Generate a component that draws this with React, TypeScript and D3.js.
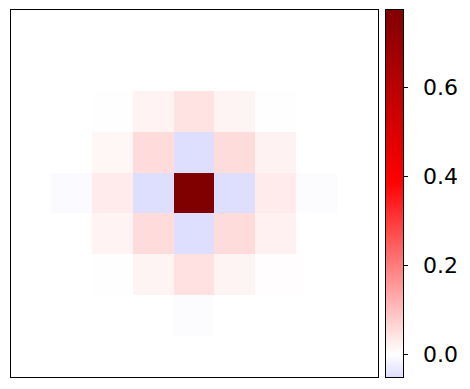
import React from "react";
import * as d3 from "d3";

const rowsIdx = d3.range(9);
const colsIdx = d3.range(9);

const row0 = [0, 0, 0, 0, 0, 0, 0, 0, 0];
const row1 = [0, 0, 0, 0, 0, 0, 0, 0, 0];
const row2 = [0, 0, 0.002, 0.018, 0.042, 0.016, 0.002, 0, 0];
const row3 = [0, 0, 0.014, 0.053, -0.05, 0.053, 0.02, 0, 0];
const row4 = [0, -0.007, 0.03, -0.05, 0.776, -0.05, 0.03, -0.004, 0];
const row5 = [0, 0, 0.018, 0.053, -0.05, 0.053, 0.022, 0, 0];
const row6 = [0, 0, 0.002, 0.016, 0.045, 0.016, 0.003, 0, 0];
const row7 = [0, 0, 0, 0, -0.004, 0, 0, 0, 0];
const row8 = [0, 0, 0, 0, 0, 0, 0, 0, 0];
const grid = [row0, row1, row2, row3, row4, row5, row6, row7, row8];

const vMin = -0.0516;
const vMax = 0.776;
const cbTicks = [0.0, 0.2, 0.4, 0.6];

// matplotlib "seismic" colormap
function seismic(t: number): string {
  const c = Math.max(0, Math.min(1, t));
  const stops: [number, number, number, number][] = [
    [0, 0, 0, 0.3],
    [0.25, 0, 0, 1],
    [0.5, 1, 1, 1],
    [0.75, 1, 0, 0],
    [1, 0.5, 0, 0],
  ];
  for (let i = 0; i < stops.length - 1; i++) {
    const a = stops[i], b = stops[i + 1];
    if (c >= a[0] && c <= b[0]) {
      const f = (c - a[0]) / (b[0] - a[0]);
      const r = a[1] + (b[1] - a[1]) * f;
      const g = a[2] + (b[2] - a[2]) * f;
      const bl = a[3] + (b[3] - a[3]) * f;
      return d3.rgb(r * 255, g * 255, bl * 255).formatHex();
    }
  }
  return "#800000";
}

const colorOf = (v: number) => seismic(0.5 + v / (2 * vMax));

export default function App() {
  const W = 470, H = 389;
  const plot = { x0: 10, y0: 9, x1: 378, y1: 377 };
  const x = d3.scaleBand<number>().domain(colsIdx).range([plot.x0, plot.x1]).padding(0);
  const y = d3.scaleBand<number>().domain(rowsIdx).range([plot.y0, plot.y1]).padding(0);
  const cb = { x0: 385, x1: 403, y0: 9, y1: 377 };
  const cy = d3.scaleLinear().domain([vMin, vMax]).range([cb.y1, cb.y0]);
  const gradStops = d3.range(0, 101).map((i) => {
    const v = vMin + ((vMax - vMin) * i) / 100;
    return { off: i, color: colorOf(v) };
  });

  return (
    <svg width={W} height={H} style={{ position: "absolute", left: 0, top: 0, background: "#fff" }}
      fontFamily="DejaVu Sans, sans-serif">
      <defs>
        <linearGradient id="cbg" x1="0" y1="1" x2="0" y2="0">
          {gradStops.map((s) => (
            <stop key={s.off} offset={`${s.off}%`} stopColor={s.color} />
          ))}
        </linearGradient>
      </defs>
      <rect x={0} y={0} width={W} height={H} fill="#fff" />
      {grid.map((row, ri) =>
        row.map((v, ci) => (
          <rect key={`${ri}-${ci}`} x={x(ci)} y={y(ri)} width={x.bandwidth() + 0.5}
            height={y.bandwidth() + 0.5} fill={colorOf(v)} shapeRendering="crispEdges" />
        ))
      )}
      <rect x={plot.x0 + 0.5} y={plot.y0 + 0.5} width={plot.x1 - plot.x0} height={plot.y1 - plot.y0}
        fill="none" stroke="#000" strokeWidth={1} />
      <rect x={cb.x0} y={cb.y0} width={cb.x1 - cb.x0} height={cb.y1 - cb.y0} fill="url(#cbg)" />
      <rect x={cb.x0 + 0.5} y={cb.y0 + 0.5} width={cb.x1 - cb.x0} height={cb.y1 - cb.y0}
        fill="none" stroke="#000" strokeWidth={1} />
      {cbTicks.map((t) => (
        <g key={t} transform={`translate(0,${Math.round(cy(t)) + 0.5})`}>
          <line x1={cb.x1} x2={cb.x1 + 5} y1={0} y2={0} stroke="#000" strokeWidth={1} />
          <text x={cb.x1 + 20} y={0} dy="0.36em" fontSize={22} fill="#000">
            {t.toFixed(1)}
          </text>
        </g>
      ))}
    </svg>
  );
}
